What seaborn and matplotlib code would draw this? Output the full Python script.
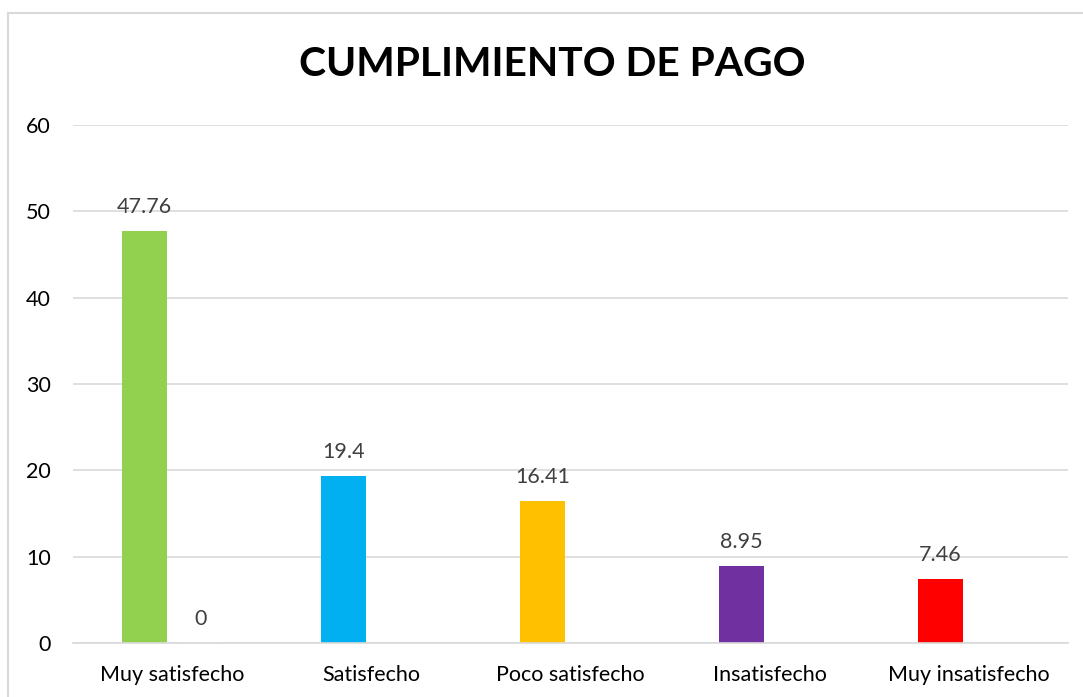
import matplotlib
matplotlib.use("Agg")
import matplotlib.pyplot as plt
import matplotlib.patches as mpatches
import seaborn as sns
import pandas as pd
import numpy as np

categories = ["Muy satisfecho", "Satisfecho", "Poco satisfecho", "Insatisfecho", "Muy insatisfecho"]
serie1 = [47.76, 19.4, 16.41, 8.95, 7.46]
serie2 = [0, np.nan, np.nan, np.nan, np.nan]
bar_colors = ["#92D050", "#00B0F0", "#FFC000", "#7030A0", "#FF0000"]
labels1 = ["47.76", "19.4", "16.41", "8.95", "7.46"]
labels2 = ["0", "", "", "", ""]
title = "CUMPLIMIENTO DE PAGO"

sns.set_theme(style="white")
plt.rcParams["font.family"] = ["Lato", "DejaVu Sans"]

df = pd.DataFrame({
    "cat": categories * 2,
    "val": serie1 + serie2,
    "serie": ["S1"] * 5 + ["S2"] * 5,
})

fig = plt.figure(figsize=(10.83, 6.97), dpi=100)
ax = fig.add_axes([73 / 1083, 1 - 643 / 697, (1068 - 73) / 1083, (643 - 125) / 697])

sns.barplot(data=df, x="cat", y="val", hue="serie", order=categories,
            hue_order=["S1", "S2"], palette=["#92D050", "#A5A5A5"],
            dodge=True, width=0.56, gap=0.2, legend=False, errorbar=None,
            saturation=1, ax=ax)

# recolor series 1 bars per category
s1_bars = list(ax.containers[0])
for patch, col in zip(s1_bars, bar_colors):
    patch.set_facecolor(col)
    patch.set_edgecolor("none")

for container, labs in zip(ax.containers, [labels1, labels2]):
    for patch, lab in zip(container, labs):
        h = patch.get_height()
        if lab == "" or np.isnan(h):
            continue
        ax.annotate(lab, (patch.get_x() + patch.get_width() / 2, h),
                    xytext=(0, 10), textcoords="offset points",
                    ha="center", va="bottom", fontsize=15.5, color="#404040")

ax.set_ylim(0, 60)
ax.set_yticks(range(0, 61, 10))
ax.set_xlim(-0.5, 4.5)
ax.yaxis.grid(True, color="#D9D9D9", linewidth=1.2)
ax.set_axisbelow(True)
for s in ["left", "right", "top"]:
    ax.spines[s].set_visible(False)
ax.spines["bottom"].set_color("#D9D9D9")
ax.spines["bottom"].set_linewidth(1.2)
ax.tick_params(axis="y", length=0, pad=16, labelsize=15.5, labelcolor="black")
ax.tick_params(axis="x", length=0, pad=16, labelsize=15.5, labelcolor="black")
ax.set_xlabel("")
ax.set_ylabel("")

fig.text(552 / 1083, 1 - 65 / 697, title, ha="center", va="center",
         fontsize=29.3, fontweight="bold", color="black")

border = mpatches.Rectangle((8 / 1083, -0.1), 1.2, 1.1 - 13 / 697 + 0.0,
                            transform=fig.transFigure, fill=False,
                            edgecolor="#D9D9D9", linewidth=1.5)
fig.patches.append(border)

fig.savefig("out.png", dpi=100)
